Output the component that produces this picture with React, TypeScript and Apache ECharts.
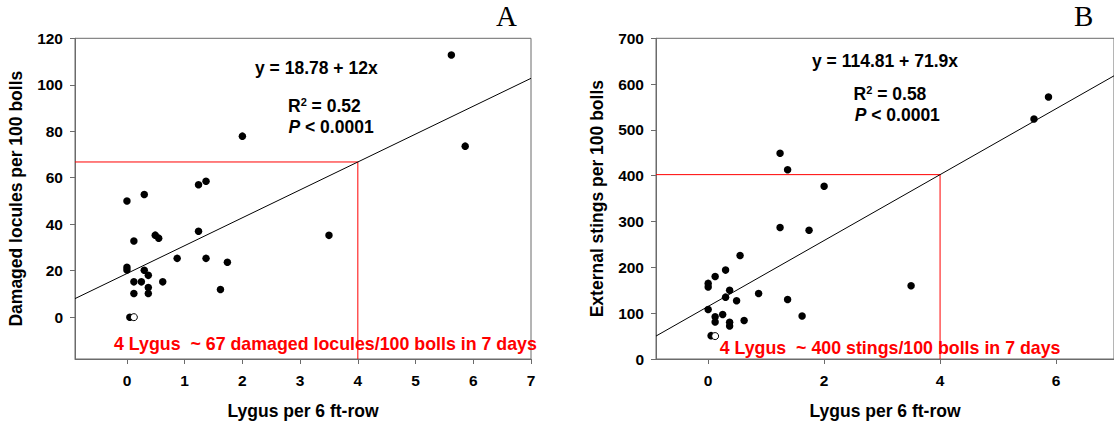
import React, { useEffect, useRef } from "react";
import * as echarts from "echarts";

// Panel A: damaged locules vs Lygus
const lygusA = [0, 0.3, 1.24, 1.37, 1.24, 0.49, 0.55, 0.12, 0.87, 1.37, 1.74, 0, 0, 0.3, 0.37, 0.12, 0.25, 0.62, 0.37, 0.12, 0.37, 1.62, 0.05, 2.0, 3.5, 5.62, 5.86];
const loculesA = [50, 52.8, 57, 58.5, 37, 35.3, 34, 32.8, 25.3, 25.3, 23.6, 21.5, 20.3, 20.2, 18, 15.2, 15.2, 15.2, 12.8, 10.2, 10.2, 11.9, 0, 77.9, 35.2, 112.8, 73.6];
const openLygusA = [0.12];
const openLoculesA = [0];
const interceptA = 18.78;
const slopeA = 12;

// Panel B: external stings vs Lygus
const lygusB = [1.24, 1.37, 2.0, 1.24, 1.74, 0.55, 0.3, 0.12, 0, 0, 0.37, 0.87, 0.3, 1.37, 0.49, 0, 0.25, 0.12, 1.62, 0.12, 0.37, 0.62, 0.37, 0.05, 3.5, 5.62, 5.87];
const stingsB = [449, 413, 377, 287, 281, 226, 194, 180, 165, 157, 150, 143, 135, 130, 127, 108, 97, 92, 94, 81, 80, 84, 72, 51, 160, 524, 572];
const openLygusB = [0.12];
const openStingsB = [50];
const interceptB = 114.81;
const slopeB = 71.9;

const thresholdLygus = 4;

const xTicksA = [0, 1, 2, 3, 4, 5, 6, 7];
const yTicksA = [0, 20, 40, 60, 80, 100, 120];
const xTicksB = [0, 2, 4, 6];
const yTicksB = [0, 100, 200, 300, 400, 500, 600, 700];

const xRange = [-0.9, 7];
const yRangeA = [-18, 120];
const yRangeB = [0, 700];

const FONT = '"Liberation Sans", Arial, Helvetica, sans-serif';
const GRAY = "#6b6b6b";

function zip(xs: number[], ys: number[]) {
  return xs.map((x, i) => [x, ys[i]]);
}

function xAxis(grid: number, ticks: number[]) {
  return {
    gridIndex: grid,
    type: "value",
    min: xRange[0],
    max: xRange[1],
    axisLine: { show: true, onZero: false, lineStyle: { color: GRAY, width: 1 } },
    axisTick: { show: true, inside: false, length: 5, customValues: ticks, lineStyle: { color: GRAY } },
    axisLabel: { customValues: ticks, margin: 13, color: "#000", fontSize: 15.5, fontWeight: "bold", fontFamily: FONT },
    splitLine: { show: false },
    name: "Lygus per 6 ft-row",
    nameLocation: "middle",
    nameGap: 43,
    nameTextStyle: { color: "#000", fontSize: 17.5, fontWeight: "bold", fontFamily: FONT },
  };
}

function yAxis(grid: number, range: number[], ticks: number[], name: string) {
  return {
    gridIndex: grid,
    type: "value",
    min: range[0],
    max: range[1],
    axisLine: { show: true, onZero: false, lineStyle: { color: GRAY, width: 1 } },
    axisTick: { show: true, inside: false, length: 5, customValues: ticks, lineStyle: { color: GRAY } },
    axisLabel: { customValues: ticks, margin: 12, color: "#000", fontSize: 15.5, fontWeight: "bold", fontFamily: FONT },
    splitLine: { show: false },
    name,
    nameLocation: "middle",
    nameGap: 50,
    nameTextStyle: { color: "#000", fontSize: 17.5, fontWeight: "bold", fontFamily: FONT },
  };
}

function boldText(x: number, y: number, text: string, extra: any = {}) {
  return {
    type: "text",
    x,
    y,
    style: {
      text,
      fill: "#000",
      fontSize: 17.5,
      fontWeight: "bold",
      fontFamily: FONT,
      align: "left",
      verticalAlign: "middle",
      ...extra,
    },
  };
}

function richR2(x: number, y: number, value: string) {
  return {
    type: "text",
    x,
    y,
    style: {
      text: "{b|R}{s|2}{b| = " + value + "}",
      align: "left",
      verticalAlign: "middle",
      rich: {
        b: { fontSize: 17.5, fontWeight: "bold", fontFamily: FONT, fill: "#000", lineHeight: 20 },
        s: { fontSize: 11, fontWeight: "bold", fontFamily: FONT, fill: "#000", verticalAlign: "top", lineHeight: 10 },
      },
    },
  };
}

function richP(x: number, y: number) {
  return {
    type: "text",
    x,
    y,
    style: {
      text: "{i|P}{b| < 0.0001}",
      align: "left",
      verticalAlign: "middle",
      rich: {
        i: { fontSize: 17.5, fontWeight: "bold", fontStyle: "italic", fontFamily: FONT, fill: "#000" },
        b: { fontSize: 17.5, fontWeight: "bold", fontFamily: FONT, fill: "#000" },
      },
    },
  };
}

export default function App() {
  const ref = useRef<HTMLDivElement>(null);

  useEffect(() => {
    if (!ref.current) return;
    const chart = echarts.init(ref.current, null, { renderer: "svg" });

    const fitA = (x: number) => interceptA + slopeA * x;
    const fitB = (x: number) => interceptB + slopeB * x;

    const dot = { color: "#000", opacity: 1 };
    const hollow = { color: "#fff", borderColor: "#000", borderWidth: 1, opacity: 1 };

    const option: any = {
      animation: false,
      backgroundColor: "#fff",
      grid: [
        { left: 75, top: 38.3, width: 456, height: 320.7, show: true, borderColor: GRAY, borderWidth: 1, backgroundColor: "transparent" },
        { left: 656, top: 38.3, width: 459.7, height: 320.7, show: true, borderColor: GRAY, borderWidth: 1, backgroundColor: "transparent" },
      ],
      xAxis: [xAxis(0, xTicksA), xAxis(1, xTicksB)],
      yAxis: [
        yAxis(0, yRangeA, yTicksA, "Damaged locules per 100 bolls"),
        yAxis(1, yRangeB, yTicksB, "External stings per 100 bolls"),
      ],
      series: [
        {
          type: "line",
          xAxisIndex: 0,
          yAxisIndex: 0,
          data: [
            [xRange[0], fitA(thresholdLygus)],
            [thresholdLygus, fitA(thresholdLygus)],
            [thresholdLygus, yRangeA[0]],
          ],
          symbol: "none",
          lineStyle: { color: "#ff0000", width: 1 },
          silent: true,
        },
        {
          type: "line",
          xAxisIndex: 0,
          yAxisIndex: 0,
          data: [
            [xRange[0], fitA(xRange[0])],
            [xRange[1], fitA(xRange[1])],
          ],
          symbol: "none",
          lineStyle: { color: "#000", width: 1 },
          silent: true,
        },
        {
          type: "scatter",
          xAxisIndex: 0,
          yAxisIndex: 0,
          data: zip(lygusA, loculesA),
          symbolSize: 7.5,
          itemStyle: dot,
        },
        {
          type: "scatter",
          xAxisIndex: 0,
          yAxisIndex: 0,
          data: zip(openLygusA, openLoculesA),
          symbolSize: 7,
          itemStyle: hollow,
        },
        {
          type: "line",
          xAxisIndex: 1,
          yAxisIndex: 1,
          data: [
            [xRange[0], fitB(thresholdLygus)],
            [thresholdLygus, fitB(thresholdLygus)],
            [thresholdLygus, yRangeB[0]],
          ],
          symbol: "none",
          lineStyle: { color: "#ff0000", width: 1 },
          silent: true,
        },
        {
          type: "line",
          xAxisIndex: 1,
          yAxisIndex: 1,
          data: [
            [xRange[0], fitB(xRange[0])],
            [xRange[1], fitB(xRange[1])],
          ],
          symbol: "none",
          lineStyle: { color: "#000", width: 1 },
          silent: true,
        },
        {
          type: "scatter",
          xAxisIndex: 1,
          yAxisIndex: 1,
          data: zip(lygusB, stingsB),
          symbolSize: 7.5,
          itemStyle: dot,
        },
        {
          type: "scatter",
          xAxisIndex: 1,
          yAxisIndex: 1,
          data: zip(openLygusB, openStingsB),
          symbolSize: 7,
          itemStyle: hollow,
        },
      ],
      graphic: [
        boldText(255, 68, "y = 18.78 + 12x"),
        richR2(288, 106, "0.52"),
        richP(288.5, 126.5),
        boldText(114, 344, "4 Lygus  ~ 67 damaged locules/100 bolls in 7 days", { fill: "#ff0000", fontSize: 17.8 }),
        boldText(812, 60.5, "y = 114.81 + 71.9x"),
        richR2(853.6, 94, "0.58"),
        richP(854.7, 115),
        boldText(719.7, 348, "4 Lygus  ~ 400 stings/100 bolls in 7 days", { fill: "#ff0000", fontSize: 17.8 }),
        {
          type: "text",
          x: 496,
          y: 30,
          style: { text: "A", fill: "#000", fontSize: 29, fontFamily: '"Liberation Serif", "Times New Roman", serif', align: "left", verticalAlign: "bottom" },
        },
        {
          type: "text",
          x: 1074,
          y: 30,
          style: { text: "B", fill: "#000", fontSize: 29, fontFamily: '"Liberation Serif", "Times New Roman", serif', align: "left", verticalAlign: "bottom" },
        },
      ],
    };

    chart.setOption(option);
    return () => chart.dispose();
  }, []);

  return (
    <div
      ref={ref}
      style={{ position: "fixed", left: 0, top: 0, width: 1114, height: 425, background: "#fff" }}
    />
  );
}
